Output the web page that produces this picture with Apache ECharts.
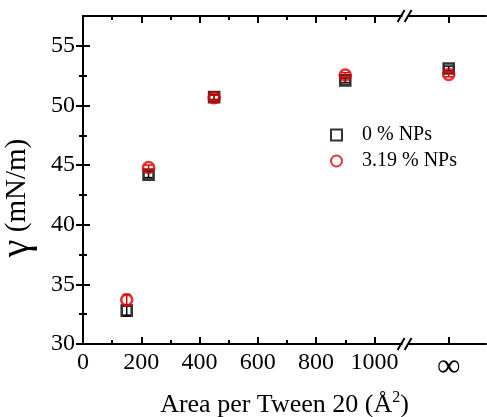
<!DOCTYPE html>
<html>
<head>
<meta charset="utf-8">
<script src="https://cdn.jsdelivr.net/npm/echarts@6/dist/echarts.min.js"></script>
<style>
  html, body { margin: 0; padding: 0; background: #fff; }
  #main { width: 487px; height: 417px; }
</style>
</head>
<body>
<div id="main"></div>
<script>
// x position used for the "infinity" point on the broken axis
var INF_POS = 1255;
var BREAK_AT = 1107;

var area = [150, 225, 450, 900, INF_POS];
var gamma0 = [32.8, 44.2, 50.7, 52.1, 53.1];
var err0 = [0.45, 0.25, 0.2, 0.2, 0.2];
var gamma319 = [33.7, 44.8, 50.65, 52.55, 52.6];
var err319 = [0.45, 0.2, 0.2, 0.2, 0.2];

var xMajor = [0, 200, 400, 600, 800, 1000, INF_POS];
var xMinor = [100, 300, 500, 700, 900];
var yMajor = [30, 35, 40, 45, 50, 55];
var yMinor = [32.5, 37.5, 42.5, 47.5, 52.5];

var FONT = 'Liberation Serif';
var myChart = echarts.init(document.getElementById('main'));

function pairs(g, e) {
    var out = [];
    for (var i = 0; i < area.length; i++) {
        out.push([area[i], g[i] - e[i], g[i] + e[i]]);
    }
    return out;
}

function errorBars(color) {
    return function (params, api) {
        var lo = api.coord([api.value(0), api.value(1)]);
        var hi = api.coord([api.value(0), api.value(2)]);
        var w = 4;
        var st = { stroke: color, lineWidth: 1.5 };
        return {
            type: 'group',
            children: [
                { type: 'line', shape: { x1: lo[0], y1: lo[1], x2: hi[0], y2: hi[1] }, style: st },
                { type: 'line', shape: { x1: lo[0] - w, y1: lo[1], x2: lo[0] + w, y2: lo[1] }, style: st },
                { type: 'line', shape: { x1: hi[0] - w, y1: hi[1], x2: hi[0] + w, y2: hi[1] }, style: st }
            ]
        };
    };
}

// the "//" marks on top and bottom axis lines
function breakMark(params, api) {
    var p = api.coord([api.value(0), api.value(1)]);
    var st = { stroke: '#000', lineWidth: 2 };
    return {
        type: 'group',
        children: [
            { type: 'rect', shape: { x: p[0] - 3, y: p[1] - 2, width: 6, height: 4 }, style: { fill: '#fff' } },
            { type: 'line', shape: { x1: p[0] - 8, y1: p[1] + 6, x2: p[0] - 1, y2: p[1] - 6 }, style: st },
            { type: 'line', shape: { x1: p[0] - 1, y1: p[1] + 6, x2: p[0] + 6, y2: p[1] - 6 }, style: st }
        ]
    };
}

function xAxisDef(pos, ticks, len, labels, line) {
    return {
        type: 'value', position: pos, min: 0, max: 1383,
        splitLine: { show: false },
        axisLine: { show: line, lineStyle: { color: '#000', width: 2 } },
        axisTick: { show: true, inside: true, length: len, customValues: ticks, lineStyle: { color: '#000', width: 2 } },
        axisLabel: {
            show: labels, customValues: ticks, margin: 7, color: '#000', fontFamily: FONT, fontSize: 24,
            formatter: function (v) { return v === INF_POS ? '{inf|\u221e}' : String(v); },
            rich: { inf: { fontFamily: FONT, fontSize: 33, color: '#000' } }
        }
    };
}

function yAxisDef(pos, ticks, len, labels, line) {
    return {
        type: 'value', position: pos, min: 30, max: 57.5,
        splitLine: { show: false },
        axisLine: { show: line, lineStyle: { color: '#000', width: 2 } },
        axisTick: { show: true, inside: true, length: len, customValues: ticks, lineStyle: { color: '#000', width: 2 } },
        axisLabel: { show: labels, customValues: ticks, margin: 8, color: '#000', fontFamily: FONT, fontSize: 24 }
    };
}

var xMain = xAxisDef('bottom', xMajor, 7, true, true);
xMain.name = '{t|Area per Tween 20 (\u00c5}{sup|2}{t|)}';
xMain.nameLocation = 'middle';
xMain.nameGap = 46;
xMain.nameTextStyle = {
    rich: {
        t: { fontFamily: FONT, fontSize: 26, color: '#000' },
        sup: { fontFamily: FONT, fontSize: 16, color: '#000', padding: [0, 0, 14, 0] }
    }
};

var yMain = yAxisDef('left', yMajor, 7, true, true);
yMain.name = '{g|\u03b3}{t| (mN/m)}';
yMain.nameLocation = 'middle';
yMain.nameGap = 46;
yMain.nameTextStyle = {
    padding: [0, 36, 0, 0],
    rich: {
        g: { fontFamily: FONT, fontSize: 40, color: '#000' },
        t: { fontFamily: FONT, fontSize: 29, color: '#000' }
    }
};

var option = {
    animation: false,
    backgroundColor: '#fff',
    grid: { left: 83, right: 1, top: 16, bottom: 73, outerBoundsMode: 'none' },
    legend: {
        orient: 'vertical', left: 325, top: 120, itemGap: 6,
        itemWidth: 11, itemHeight: 11,
        textStyle: { fontFamily: FONT, fontSize: 20, color: '#000', padding: [0, 0, 0, 15] },
        data: ['0 % NPs', '3.19 % NPs']
    },
    xAxis: [
        xMain,
        xAxisDef('bottom', xMinor, 4, false, false),
        xAxisDef('top', xMajor, 7, false, true),
        xAxisDef('top', xMinor, 4, false, false)
    ],
    yAxis: [
        yMain,
        yAxisDef('left', yMinor, 4, false, false),
        yAxisDef('right', yMajor, 7, false, true),
        yAxisDef('right', yMinor, 4, false, false)
    ],
    series: [
        {
            type: 'custom', name: 'err0', renderItem: errorBars('#000'),
            data: pairs(gamma0, err0), encode: { x: 0, y: [1, 2] }, z: 3
        },
        {
            name: '0 % NPs', type: 'scatter', symbol: 'rect', symbolSize: 10,
            itemStyle: { color: 'rgba(0,0,0,0)', borderColor: '#000', borderWidth: 2.6 },
            data: area.map(function (x, i) { return [x, gamma0[i]]; }), z: 4
        },
        {
            type: 'custom', name: 'err319', renderItem: errorBars('#e00000'),
            data: pairs(gamma319, err319), encode: { x: 0, y: [1, 2] }, z: 5
        },
        {
            name: '3.19 % NPs', type: 'scatter', symbol: 'circle', symbolSize: 11,
            itemStyle: { color: 'rgba(0,0,0,0)', borderColor: '#e00000', borderWidth: 2.6 },
            data: area.map(function (x, i) { return [x, gamma319[i]]; }), z: 6
        },
        {
            type: 'custom', name: 'break', renderItem: breakMark, clip: false, silent: true,
            data: [[BREAK_AT, 30], [BREAK_AT, 57.5]], z: 10
        }
    ]
};

myChart.setOption(option);
</script>
</body>
</html>
